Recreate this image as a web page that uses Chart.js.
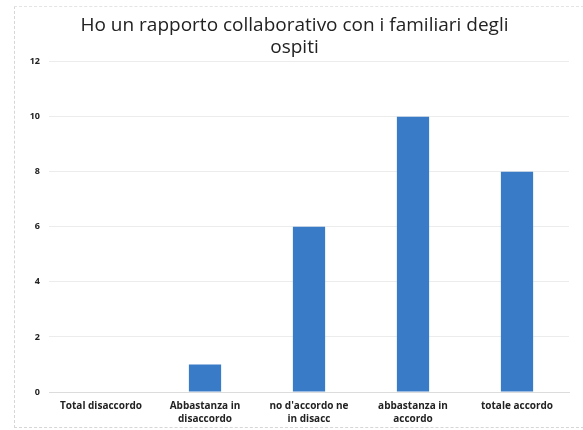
<!DOCTYPE html>
<html><head><meta charset="utf-8">
<script src="https://cdn.jsdelivr.net/npm/chart.js@4/dist/chart.umd.min.js"></script>
<style>
html,body{margin:0;padding:0;background:#fff;}
#wrap{position:absolute;left:0;top:0;width:583px;height:430px;}
#frame{position:absolute;left:14px;top:6px;width:570px;height:422px;border-left:1px dashed #d6d6d6;border-top:1px dashed #e4e4e4;border-bottom:1px dashed #d6d6d6;box-sizing:border-box;}
</style></head><body>
<div id="wrap"><div id="frame"></div><canvas id="c" width="583" height="430"></canvas></div>
<script>
const categories = [["Total disaccordo"], ["Abbastanza in","disaccordo"], ["no d'accordo ne","in disacc"], ["abbastanza in","accordo"], ["totale accordo"]];
const values = [0, 1, 6, 10, 8];
const yTicks = [0, 2, 4, 6, 8, 10, 12];
const titleLines = ["Ho un rapporto collaborativo con i familiari degli", "ospiti"];

new Chart(document.getElementById('c'), {
  type: 'bar',
  data: { labels: categories, datasets: [{ data: values, backgroundColor: '#3a7bc8', borderWidth: 0, barPercentage: 0.31, categoryPercentage: 1 }] },
  options: {
    responsive: false, animation: false,
    layout: { padding: { left: 20, right: 14, top: 7, bottom: 5 } },
    plugins: {
      legend: { display: false }, tooltip: { enabled: false },
      title: { display: true, text: titleLines, color: '#222', font: { family: 'Open Sans', size: 19, weight: 'normal', lineHeight: 1.15 }, padding: { top: 8, bottom: 3 } }
    },
    scales: {
      x: {
        grid: { display: false }, border: { display: true, color: '#dcdcdc' },
        ticks: { color: '#222', font: { family: 'Open Sans', size: 10, weight: 'bold', lineHeight: 1.25 }, maxRotation: 0, autoSkip: false, padding: 0 }
      },
      y: {
        min: 0, max: 12,
        afterFit: s => { s.width = 29; },
        afterBuildTicks: s => { s.ticks = yTicks.map(v => ({ value: v })); },
        grid: { color: '#ececec', drawTicks: false }, border: { display: false },
        ticks: { color: '#222', font: { family: 'Open Sans', size: 9, weight: 'bold' }, padding: 9 }
      }
    }
  }
});
</script>
</body></html>
